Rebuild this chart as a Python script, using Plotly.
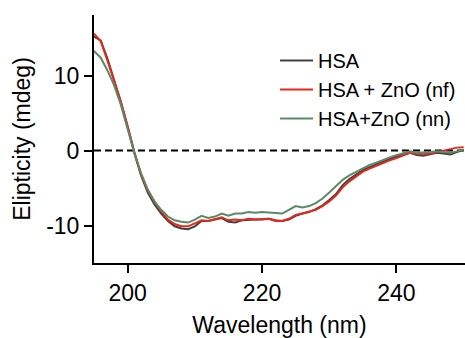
import plotly.graph_objects as go

wavelength = list(range(195, 251))

hsa = [15.2, 14.7, 12.3, 9.4, 6.5, 3.2, -0.3, -3.3, -5.6, -7.2,
       -8.4, -9.4, -10.1, -10.4, -10.5, -10.1, -9.4, -9.4, -9.2, -9.0,
       -9.5, -9.6, -9.3, -9.2, -9.2, -9.2, -9.1, -9.3, -9.4, -9.2,
       -8.7, -8.4, -8.2, -7.8, -7.3, -6.6, -5.8, -4.6, -3.8, -3.2,
       -2.6, -2.2, -1.8, -1.5, -1.1, -0.8, -0.5, -0.3, -0.6, -0.7,
       -0.5, -0.3, -0.4, -0.5, -0.2, 0.1]

hsa_nf = [15.6, 14.6, 12.0, 9.3, 6.5, 3.3, -0.2, -3.2, -5.3, -6.8,
          -8.1, -9.2, -9.8, -10.1, -10.1, -9.7, -9.3, -9.4, -9.1, -8.9,
          -9.3, -9.2, -9.3, -9.1, -9.2, -9.2, -9.1, -9.4, -9.4, -9.1,
          -8.6, -8.4, -8.2, -7.9, -7.4, -6.8, -6.0, -4.9, -4.1, -3.4,
          -2.8, -2.4, -2.0, -1.7, -1.3, -1.0, -0.6, -0.3, -0.4, -0.5,
          -0.4, -0.2, 0.0, 0.3, 0.4, 0.45]

hsa_nn = [13.3, 12.4, 10.7, 8.7, 6.1, 2.9, -0.3, -3.0, -5.2, -6.8,
          -7.9, -8.8, -9.3, -9.5, -9.6, -9.2, -8.7, -9.0, -8.8, -8.4,
          -8.7, -8.4, -8.4, -8.2, -8.3, -8.2, -8.3, -8.4, -8.4, -7.9,
          -7.4, -7.6, -7.4, -7.0, -6.4, -5.6, -4.7, -3.9, -3.3, -2.8,
          -2.3, -1.9, -1.6, -1.2, -0.9, -0.6, -0.3, -0.1, -0.3, -0.3,
          -0.2, -0.1, -0.2, -0.3, -0.1, 0.1]

series_names = ["HSA", "HSA + ZnO (nf)", "HSA+ZnO (nn)"]
series_colors = ["#414141", "#e5281d", "#5a8a65"]

x_tickvals = [200, 220, 240]
x_ticktext = ["200", "220", "240"]
y_tickvals = [-10, 0, 10]
y_ticktext = ["-10", "0", "10"]

FONT = "Liberation Sans, Arial, sans-serif"

fig = go.Figure()
for name, ys, col in zip(series_names, [hsa, hsa_nf, hsa_nn], series_colors):
    fig.add_trace(go.Scatter(x=wavelength, y=ys, mode="lines", name=name,
                             line=dict(color=col, width=2)))

fig.add_shape(type="line", xref="paper", yref="y", x0=0, x1=1, y0=0, y1=0,
              line=dict(color="black", width=2, dash="7px,4px"), layer="below")

fig.update_layout(
    width=465, height=338,
    margin=dict(l=94, r=0, t=15, b=75),
    paper_bgcolor="white", plot_bgcolor="white",
    font=dict(family=FONT, color="black", size=23),
    showlegend=True,
    legend=dict(x=0.488, y=0.895, xanchor="left", yanchor="top",
                bgcolor="rgba(0,0,0,0)", borderwidth=0, itemwidth=33,
                font=dict(size=20, family=FONT, color="black")),
    xaxis=dict(range=[195, 250.2], showgrid=False, zeroline=False,
               showline=True, linecolor="black", linewidth=2,
               ticks="outside", ticklen=8, tickwidth=2, tickcolor="black",
               tickvals=x_tickvals, ticktext=x_ticktext,
               tickfont=dict(size=23),
               title=dict(text="Wavelength (nm)", font=dict(size=23), standoff=15)),
    yaxis=dict(range=[-15, 18.1], showgrid=False, zeroline=False,
               showline=True, linecolor="black", linewidth=2,
               ticks="outside", ticklen=8, tickwidth=2, tickcolor="black",
               tickvals=y_tickvals, ticktext=y_ticktext,
               tickfont=dict(size=23),
               title=dict(text="Elipticity (mdeg)", font=dict(size=23), standoff=9)),
)

fig.write_html("out.html")
